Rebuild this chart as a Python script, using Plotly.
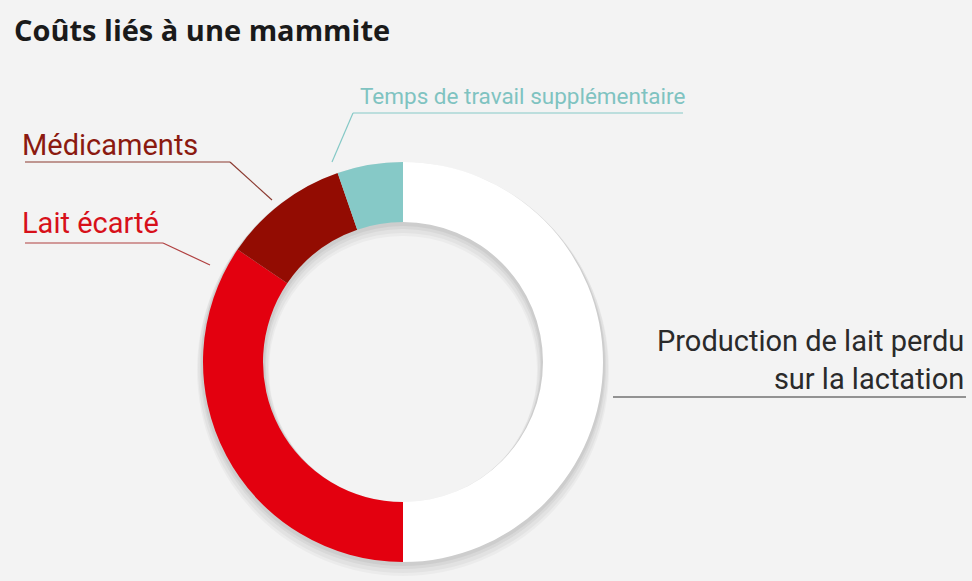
import plotly.graph_objects as go

# Données (parts en %)
categories = [
    "Production de lait perdu sur la lactation",
    "Lait écarté",
    "Médicaments",
    "Temps de travail supplémentaire",
]
values = [50.0, 34.5, 10.2, 5.3]
colors = ["#ffffff", "#e3000f", "#930c02", "#86c9c7"]

W, H = 972, 581
BG = "#f3f3f3"

# position du donut en pixels
cx, cy, R = 403, 362, 200
dom_x = [(cx - R) / W, (cx + R) / W]
dom_y = [1 - (cy + R) / H, 1 - (cy - R) / H]

fig = go.Figure()

# ombre portée douce : quelques anneaux gris translucides décalés vers le bas
for dy, grow, alpha in [(2, 2, 0.05), (4, 3, 0.045), (6, 5, 0.035), (8, 6, 0.03)]:
    r = R + grow
    fig.add_trace(go.Pie(
        values=[sum(values)],
        hole=(140 - grow) / r,
        marker=dict(colors=[f"rgba(0,0,0,{alpha})"], line=dict(width=0)),
        textinfo="none", hoverinfo="skip", sort=False, showlegend=False,
        domain=dict(x=[(cx - r) / W, (cx + r) / W],
                    y=[max(0, 1 - (cy + dy + r) / H), min(1, 1 - (cy + dy - r) / H)]),
    ))

fig.add_trace(go.Pie(
    labels=categories,
    values=values,
    hole=0.70,
    sort=False,
    direction="clockwise",
    rotation=0,
    marker=dict(colors=colors, line=dict(width=0)),
    textinfo="none",
    showlegend=False,
    domain=dict(x=dom_x, y=dom_y),
))

label_font = "Roboto, Liberation Sans Narrow, sans-serif"


def px(x, y):
    return x / W, 1 - y / H


def add_line(points, color):
    for (x0, y0), (x1, y1) in zip(points[:-1], points[1:]):
        a, b = px(x0, y0)
        c, d = px(x1, y1)
        fig.add_shape(type="line", xref="paper", yref="paper",
                      x0=a, y0=b, x1=c, y1=d,
                      line=dict(color=color, width=1.2))


def add_label(text, x, y, color, size, anchor="left"):
    a, b = px(x, y)
    fig.add_annotation(text=text, x=a, y=b, xref="paper", yref="paper",
                       xanchor=anchor, yanchor="middle", showarrow=False,
                       align="right" if anchor == "right" else "left",
                       font=dict(family=label_font, size=size, color=color))


# Temps de travail
add_label(categories[3], 358, 96, "#7fc3c1", 22.5)
add_line([(683, 113), (353, 113), (332, 162)], "#86c9c7")
# Médicaments
add_label(categories[2], 20, 145, "#8b1a10", 29)
add_line([(25, 162), (230, 162), (272, 200)], "#8b3a30")
# Lait écarté
add_label(categories[1], 20, 223, "#d7101a", 29)
add_line([(25, 243), (163, 243), (210, 265)], "#b04040")
# Production
add_label("Production de lait perdu<br>sur la lactation", 966, 360, "#2a2a2a", 29, anchor="right")
add_line([(613, 397), (966, 397)], "#333333")

fig.add_annotation(
    text="<b>Coûts liés à une mammite</b>", x=12 / W, y=1 - 30 / H,
    xref="paper", yref="paper", xanchor="left", yanchor="middle",
    showarrow=False,
    font=dict(family="Open Sans, Noto Sans, sans-serif", size=29, color="#1a1a1a"),
)

fig.update_layout(
    width=W, height=H,
    margin=dict(l=0, r=0, t=0, b=0),
    paper_bgcolor=BG, plot_bgcolor=BG,
)

fig.write_html("out.html", config={"displayModeBar": False},
               post_script="document.body.style.margin='0';")
